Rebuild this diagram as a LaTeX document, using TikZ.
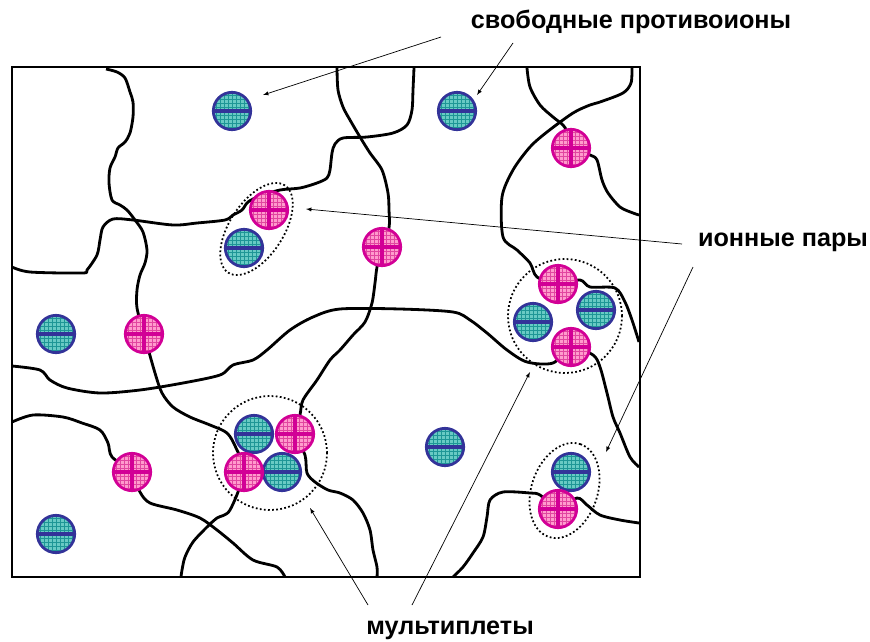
\documentclass[tikz,border=0pt]{standalone}
\usepackage{fontspec}
\setmainfont{Liberation Sans}
\usepackage{tikz}
\usetikzlibrary{backgrounds}

\definecolor{anionfill}{RGB}{104,202,196}
\definecolor{anionnet}{RGB}{30,150,150}
\definecolor{anionline}{RGB}{51,51,153}
\definecolor{cationfill}{RGB}{255,155,205}
\definecolor{cationnet}{RGB}{225,70,160}
\definecolor{cationline}{RGB}{210,0,150}

\tikzset{
  ion/.style={circle, inner sep=0pt, minimum size=1.12cm, line width=2.4pt},
  anion/.style={ion, draw=anionline, fill=anionfill, path picture={
      \draw[anionnet, line width=0.3pt, step=0.12cm] (path picture bounding box.south west) grid (path picture bounding box.north east);
      \draw[anionline, line width=2.6pt] (path picture bounding box.west) -- (path picture bounding box.east);}},
  cation/.style={ion, draw=cationline, fill=cationfill, path picture={
      \draw[cationnet, line width=0.3pt, step=0.12cm] (path picture bounding box.south west) grid (path picture bounding box.north east);
      \draw[cationline, line width=2.6pt] (path picture bounding box.west) -- (path picture bounding box.east);
      \draw[cationline, line width=2.6pt] (path picture bounding box.north) -- (path picture bounding box.south);}},
  strand/.style={line width=2.4pt, line join=round},
  assoc/.style={dotted, line width=1.5pt},
  pointer/.style={-latex, line width=0.6pt},
  caption/.style={font=\fontsize{21.5pt}{26pt}\selectfont\bfseries, inner sep=0pt}
}

\begin{document}
\begin{tikzpicture}[x=0.03cm, y=0.03cm]
\useasboundingbox (0,0) rectangle (870,-641);

\draw[line width=2.4pt] (12,-67) rectangle (640,-577);

\foreach \n/\x/\y in {a1/232/-111, a2/457/-111, a3/244/-248, a4/56/-334, a5/56/-534, a6/254/-434, a7/282/-472, a8/445/-447, a9/533/-322, a10/596/-310, a11/571/-472}
  \node[anion] (\n) at (\x,\y) {};
\foreach \n/\x/\y in {c1/269/-210, c2/382/-247, c3/571/-148, c4/144/-334, c5/132/-472, c6/295/-434, c7/244/-472, c8/558/-284, c9/571/-347, c10/558/-509}
  \node[cation] (\n) at (\x,\y) {};

\begin{scope}[on background layer]
\draw[strand] plot[smooth, tension=0.5] coordinates {(106,-69) (117,-72) (125,-78) (130,-92) (133,-102) (133,-117) (130,-133) (125,-142) (118,-148) (115,-157) (110,-168) (109,-183) (112,-200) (120,-205) (127,-210) (135,-220) (143,-232) (147,-250) (145,-263) (140,-275) (137,-290) (137,-308) (c4.center) (155,-373) (162,-393) (173,-407) (190,-417) (210,-425) (227,-433) (236,-448) (c7.center) (230,-510) (217,-518) (207,-527) (193,-542) (185,-557) (182,-570) (181,-577)};
\draw[strand] plot[smooth, tension=0.5] coordinates {(12,-267) (30,-272) (82,-273) (87,-270) (97,-255) (100,-240) (103,-227) (113,-219) (133,-220) (173,-225) (197,-223) (225,-220) (233,-215) (242,-210) (248,-202) (260,-196) (280,-190) (300,-188) (317,-183) (327,-178) (330,-170) (332,-153) (335,-144) (343,-138) (367,-137) (393,-133) (407,-125) (412,-110) (413,-90) (414,-68)};
\draw[strand] plot[smooth, tension=0.5] coordinates {(337,-68) (338,-90) (343,-107) (350,-120) (360,-137) (370,-153) (382,-170) (388,-193) (389,-210) (389,-228) (c2.center) (377,-267) (375,-283) (372,-303) (365,-322) (353,-335) (340,-350) (330,-360) (317,-380) (303,-400) (300,-415) (c6.center) (305,-455) (307,-473) (315,-482) (328,-490) (340,-493) (353,-500) (363,-513) (370,-530) (373,-550) (377,-567) (377,-577)};
\draw[strand] plot[smooth, tension=0.5] coordinates {(12,-422) (33,-415) (63,-417) (82,-423) (100,-430) (108,-443) (112,-457) (c5.center) (140,-492) (150,-503) (177,-510) (200,-518) (217,-530) (233,-543) (253,-560) (277,-567) (285,-577)};
\draw[strand] plot[smooth, tension=0.5] coordinates {(12,-366) (40,-370) (50,-380) (67,-388) (100,-393) (140,-390) (183,-383) (220,-375) (233,-365) (253,-360) (267,-350) (290,-330) (313,-317) (340,-309) (400,-309) (453,-312) (470,-320) (487,-333) (507,-350) (527,-362) (553,-363) (c9.center) (593,-355) (600,-367) (607,-393) (613,-417) (620,-433) (630,-457) (639,-467)};
\draw[strand] plot[smooth, tension=0.5] coordinates {(527,-68) (530,-87) (540,-105) (553,-117) (563,-125) (567,-132) (c3.center) (590,-155) (597,-160) (602,-180) (608,-193) (620,-207) (633,-213) (639,-215)};
\draw[strand] plot[smooth, tension=0.5] coordinates {(632,-68) (631,-83) (623,-93) (600,-102) (590,-105) (573,-113) (547,-132) (530,-147) (513,-170) (502,-197) (503,-237) (517,-250) (530,-263) (537,-277) (c8.center) (580,-280) (590,-287) (615,-288) (625,-302) (632,-320) (639,-342)};
\draw[strand] plot[smooth, tension=0.5] coordinates {(453,-577) (463,-567) (473,-553) (483,-537) (487,-517) (490,-500) (503,-492) (530,-493) (540,-495) (c10.center) (577,-498) (587,-505) (600,-515) (620,-520) (639,-523)};
\end{scope}

\coordinate (pair1) at (256.5,-229);
\coordinate (pair2) at (564.5,-490.5);
\coordinate (multi1) at (270,-453);
\coordinate (multi2) at (565,-316);
\draw[assoc, rotate around={57:(pair1)}] (pair1) ellipse [x radius=52, y radius=27];
\draw[assoc, rotate around={71:(pair2)}] (pair2) ellipse [x radius=49, y radius=33];
\draw[assoc] (multi1) circle (57);
\draw[assoc] (multi2) circle (57);

\node[caption] (free) at (631,-22) {свободные противоионы};
\node[caption] (pairs) at (783,-242) {ионные пары};
\node[caption] (multi) at (450,-630) {мультиплеты};

\coordinate (free1) at (441,-37);
\coordinate (free2) at (513,-43);
\coordinate (pairs1) at (682,-244);
\coordinate (pairs2) at (693,-267);
\coordinate (multiA) at (368,-605);
\coordinate (multiB) at (412,-605);
\coordinate (freeTip1) at (263,-95);
\coordinate (freeTip2) at (477,-95);
\coordinate (pairsTip1) at (306,-209);
\coordinate (pairsTip2) at (606,-452);
\coordinate (multiTipA) at (310,-508);
\coordinate (multiTipB) at (530,-372);
\draw[pointer] (free1) -- (freeTip1);
\draw[pointer] (free2) -- (freeTip2);
\draw[pointer] (pairs1) -- (pairsTip1);
\draw[pointer] (pairs2) -- (pairsTip2);
\draw[pointer] (multiA) -- (multiTipA);
\draw[pointer] (multiB) -- (multiTipB);
\end{tikzpicture}
\end{document}
